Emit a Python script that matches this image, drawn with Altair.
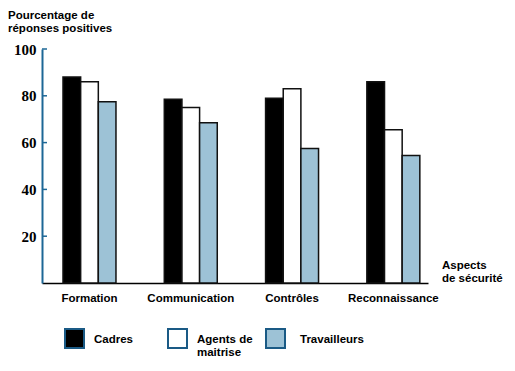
import altair as alt
import pandas as pd

categories = ["Formation", "Communication", "Contrôles", "Reconnaissance"]
series = ["Cadres", "Agents de maitrise", "Travailleurs"]
cadres = [88, 78.5, 79, 86]
agents = [86, 75, 83, 65.5]
travailleurs = [77.5, 68.5, 57.5, 54.5]
y_ticks = [20, 40, 60, 80, 100]
colors = ["#000000", "#ffffff", "#9dc2d6"]
legend_labels = [["Cadres"], ["Agents de", "maitrise"], ["Travailleurs"]]

rows = []
for i, c in enumerate(categories):
    for s, vals in zip(series, [cadres, agents, travailleurs]):
        rows.append({"cat": c, "series": s, "value": vals[i]})
df = pd.DataFrame(rows)

W, H = 386, 234
BLUE = "#1d6796"
FONT = "Liberation Sans"

bars = alt.Chart(df).mark_bar(stroke="#111111", strokeWidth=1.5).encode(
    x=alt.X("cat:N", sort=categories,
            scale=alt.Scale(paddingInner=0.477, paddingOuter=0.144, align=0.72),
            axis=alt.Axis(title=None, labelAngle=0, ticks=False, domainColor="#000000",
                          domainWidth=1.5, labelFont=FONT, labelFontSize=11.5,
                          labelFontWeight="bold", labelColor="#000000", labelPadding=9)),
    xOffset=alt.XOffset("series:N", sort=series, scale=alt.Scale(paddingInner=0, paddingOuter=0)),
    y=alt.Y("value:Q", scale=alt.Scale(domain=[0, 100], nice=False),
            axis=alt.Axis(values=y_ticks, title=None, ticks=False, grid=False,
                          domainColor=BLUE, domainWidth=2, labelFont="Liberation Sans Narrow",
                          labelFontSize=15, labelFontWeight="bold", labelColor="#000000",
                          labelPadding=6)),
    color=alt.Color("series:N", scale=alt.Scale(domain=series, range=colors), legend=None),
)

tick_df = pd.DataFrame({"v": y_ticks})
ticks = alt.Chart(tick_df).mark_rule(color=BLUE, strokeWidth=1.5).encode(
    y=alt.Y("v:Q"), x=alt.value(0), x2=alt.value(5)
)

def text_layer(lines, x, y, size=11.5):
    return alt.Chart(pd.DataFrame({"t": [lines]})).mark_text(
        align="left", baseline="alphabetic", font=FONT, fontSize=size,
        fontWeight="bold", color="#000000", lineHeight=13
    ).encode(text="t:N", x=alt.value(x), y=alt.value(y))

title = text_layer(["Pourcentage de", "réponses positives"], -34, -30.5)
xtitle = text_layer(["Aspects", "de sécurité"], 400, 220, size=11.5)

layers = [bars, ticks, title, xtitle]

sq_x = [23, 126, 224]
lab_x = [52, 155, 258]
for i, s in enumerate(series):
    sq = alt.Chart(pd.DataFrame({"s": [s]})).mark_rect(
        fill=colors[i], stroke="#1a5a85", strokeWidth=2
    ).encode(x=alt.value(sq_x[i]), x2=alt.value(sq_x[i] + 19),
             y=alt.value(280), y2=alt.value(299))
    lab = text_layer(legend_labels[i], lab_x[i], 294)
    layers += [sq, lab]

chart = alt.layer(*layers).properties(
    width=W, height=H,
    autosize=alt.AutoSizeParams(type="none"),
    padding={"left": 34, "top": 41, "right": 79, "bottom": 80},
).configure_view(stroke=None)

chart.save("out.html", embed_options={"renderer": "svg", "actions": False})
